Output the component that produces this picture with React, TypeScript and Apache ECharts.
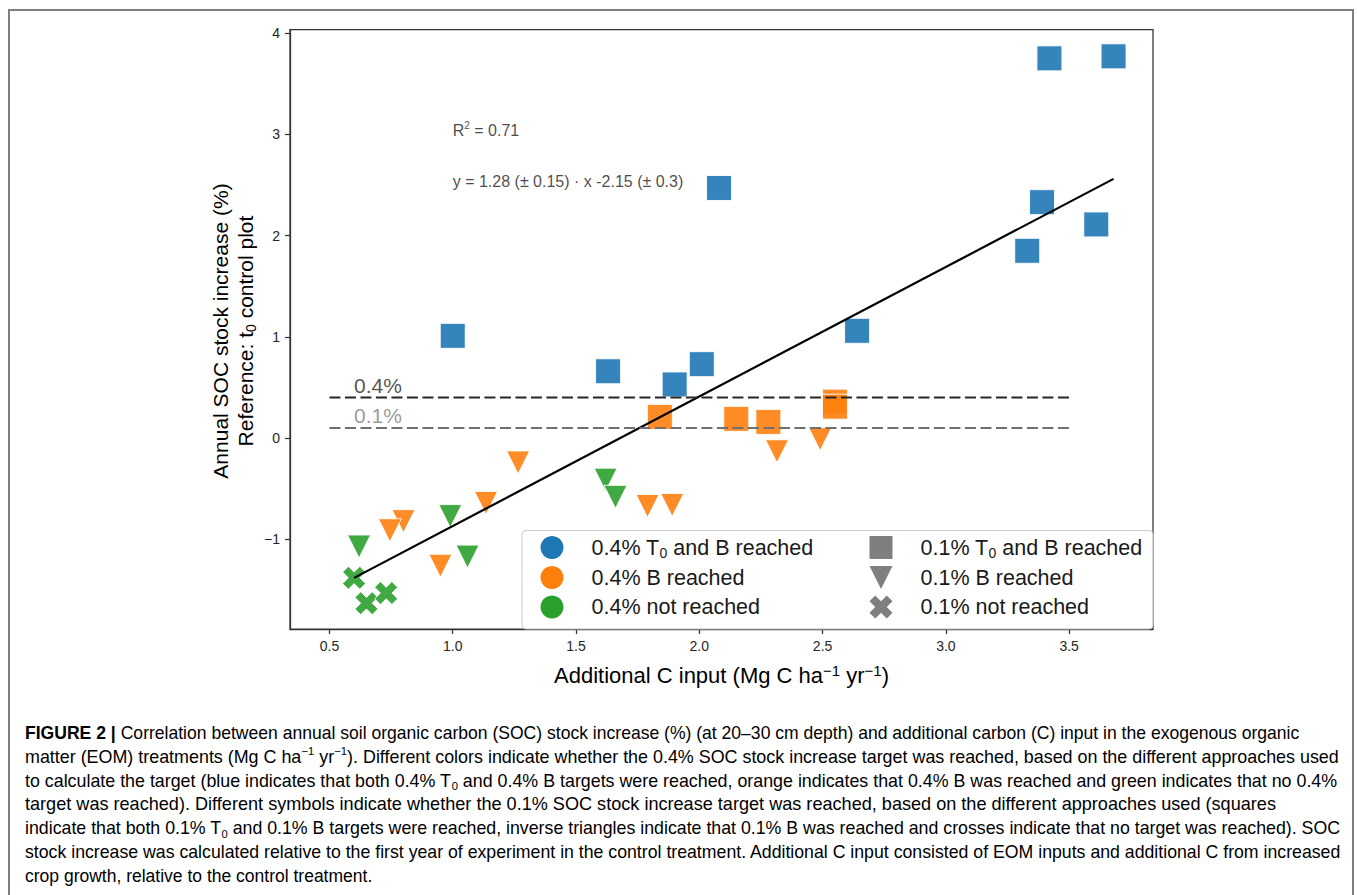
import React, { useEffect, useRef } from 'react';
import * as echarts from 'echarts';

const FONT = '"Liberation Sans", Arial, Helvetica, sans-serif';
const BLUE = '#1f77b4';
const ORANGE = '#ff7f0e';
const GREEN = '#2ca02c';
const GRAY = '#7f7f7f';

// ---- data (x: additional C input, y: annual SOC stock increase %) ----
const blueSquares: number[][] = [
  [1.0, 1.01], [1.63, 0.66], [1.9, 0.53], [2.01, 0.73], [2.08, 2.47], [2.64, 1.06],
  [3.33, 1.85], [3.39, 2.33], [3.61, 2.11], [3.42, 3.75], [3.68, 3.77],
];
const orangeSquares: number[][] = [
  [1.84, 0.21], [2.15, 0.19], [2.28, 0.16], [2.55, 0.36], [2.55, 0.31],
];
const orangeTriangles: number[][] = [
  [1.265, -0.24], [1.135, -0.64], [0.8, -0.82], [0.745, -0.91], [0.95, -1.26],
  [1.79, -0.67], [1.89, -0.66], [2.315, -0.13], [2.49, -0.01],
];
const greenTriangles: number[][] = [
  [0.62, -1.07], [0.99, -0.77], [1.06, -1.17], [1.62, -0.41], [1.66, -0.58],
];
const greenCrosses: number[][] = [
  [0.6, -1.38], [0.65, -1.63], [0.73, -1.53],
];

const regressionX = [0.6, 3.68];
const regressionY = [-1.38, 2.56];
const thresholdX = [0.5, 3.5];
const threshold04 = 0.4;
const threshold01 = 0.1;

const xTicks = [0.5, 1.0, 1.5, 2.0, 2.5, 3.0, 3.5];
const yTicks = [-1, 0, 1, 2, 3, 4];

const legendColorNames = ['0.4% T0 and B reached', '0.4% B reached', '0.4% not reached'];
const legendShapeNames = ['0.1% T0 and B reached', '0.1% B reached', '0.1% not reached'];

const annotationTexts = ['{d|0.4%}', '{g|0.1%}', '{t|R}{p|2}{t| = 0.71}', '{t|y = 1.28 (± 0.15) · x -2.15 (± 0.3)}'];
const annotationX = [0.6, 0.6, 1.0, 1.0];
const annotationY = [0.52, 0.22, 3.04, 2.53];

type Seg = [string, string];
const captionLines: Seg[][] = [
  [['b', 'FIGURE 2 |'], ['n', ' Correlation between annual soil organic carbon (SOC) stock increase (%) (at 20–30 cm depth) and additional carbon (C) input in the exogenous organic']],
  [['n', 'matter (EOM) treatments (Mg C ha'], ['p', '−1'], ['n', ' yr'], ['p', '−1'], ['n', '). Different colors indicate whether the 0.4% SOC stock increase target was reached, based on the different approaches used']],
  [['n', 'to calculate the target (blue indicates that both 0.4% T'], ['s', '0'], ['n', ' and 0.4% B targets were reached, orange indicates that 0.4% B was reached and green indicates that no 0.4%']],
  [['n', 'target was reached). Different symbols indicate whether the 0.1% SOC stock increase target was reached, based on the different approaches used (squares']],
  [['n', 'indicate that both 0.1% T'], ['s', '0'], ['n', ' and 0.1% B targets were reached, inverse triangles indicate that 0.1% B was reached and crosses indicate that no target was reached). SOC']],
  [['n', 'stock increase was calculated relative to the first year of experiment in the control treatment. Additional C input consisted of EOM inputs and additional C from increased']],
  [['n', 'crop growth, relative to the control treatment.']],
];
const captionRight = [1300, 1340, 1338, 1277, 1340, 1342, 0];

const TRI = 'path://M0,0 L2,0 L1,2 Z';
const XSYM = 'path://M1,0 L2,1 L3,0 L4,1 L3,2 L4,3 L3,4 L2,3 L1,4 L0,3 L1,2 L0,1 Z';

const CAP_SIZE = 17.5;
const CAP_SMALL = 11;
const CAP_COLOR = '#231f20';

function legendRich(name: string): string {
  const i = name.indexOf('T0');
  if (i < 0) return `{a|${name}}`;
  return `{a|${name.slice(0, i + 1)}}{s|0}{a|${name.slice(i + 2)}}`;
}

export default function App() {
  const ref = useRef<HTMLDivElement>(null);
  useEffect(() => {
    if (!ref.current) return;
    const chart = echarts.init(ref.current, undefined, { renderer: 'svg' });

    const ctx = document.createElement('canvas').getContext('2d') as CanvasRenderingContext2D;
    const fontFor = (k: string) => {
      if (k === 'b') return `bold ${CAP_SIZE}px ${FONT}`;
      if (k === 'p' || k === 's') return `${CAP_SMALL}px ${FONT}`;
      return `${CAP_SIZE}px ${FONT}`;
    };
    const capRich = {
      n: { fontSize: CAP_SIZE, fontFamily: FONT, color: CAP_COLOR, lineHeight: 22 },
      b: { fontSize: CAP_SIZE, fontFamily: FONT, color: CAP_COLOR, fontWeight: 'bold', lineHeight: 22 },
      p: { fontSize: CAP_SMALL, fontFamily: FONT, color: CAP_COLOR, lineHeight: 9, verticalAlign: 'top' },
      s: { fontSize: CAP_SMALL, fontFamily: FONT, color: CAP_COLOR, lineHeight: 9, verticalAlign: 'bottom' },
    };
    const captionGraphics = captionLines.map((segs, i) => {
      let w = 0;
      segs.forEach(([k, t]) => {
        ctx.font = fontFor(k);
        w += ctx.measureText(t).width;
      });
      const target = captionRight[i];
      const sx = target ? (target - 25) / w : 1;
      return {
        type: 'text',
        x: 25,
        y: 733 + 23.8 * i,
        scaleX: sx,
        silent: true,
        style: {
          text: segs.map(([k, t]) => `{${k}|${t}}`).join(''),
          rich: capRich,
          align: 'left',
          verticalAlign: 'middle',
        },
      };
    });

    const mk = (name: string, data: number[][], color: string, symbol: string, size: number) => ({
      type: 'scatter',
      name,
      data,
      symbol,
      symbolSize: size,
      itemStyle: { color, opacity: 0.9, borderColor: '#ffffff', borderWidth: 1 },
      z: 2,
      silent: true,
    });
    const dummy = (name: string, symbol: string) => ({
      type: 'scatter',
      name,
      data: [],
      symbol,
      itemStyle: { color: GRAY, opacity: 1 },
    });

    const legendText = {
      color: '#1a1a1a',
      fontFamily: FONT,
      fontSize: 21.5,
      padding: [0, 0, 0, 23],
      rich: {
        a: { fontSize: 21.5, fontFamily: FONT, color: '#1a1a1a', lineHeight: 24 },
        s: { fontSize: 14, fontFamily: FONT, color: '#1a1a1a', lineHeight: 10, verticalAlign: 'bottom' },
      },
    };

    const option: any = {
      animation: false,
      backgroundColor: '#ffffff',
      textStyle: { fontFamily: FONT },
      grid: {
        left: 290, top: 29.5, width: 863, height: 599.5,
        show: true, borderColor: '#333333', borderWidth: 1.25,
      },
      xAxis: {
        type: 'value', min: 0.34, max: 3.84,
        axisLine: { show: true, onZero: false, lineStyle: { color: '#333333', width: 1.25 } },
        axisTick: { show: true, customValues: xTicks, length: 5, lineStyle: { color: '#333333', width: 1.25 } },
        axisLabel: {
          customValues: xTicks, formatter: (v: number) => v.toFixed(1),
          fontSize: 14, color: '#262626', margin: 10, fontFamily: FONT,
        },
        splitLine: { show: false },
      },
      yAxis: {
        type: 'value', min: -1.885, max: 4.035,
        axisLine: { show: true, onZero: false, lineStyle: { color: '#333333', width: 1.25 } },
        axisTick: { show: true, customValues: yTicks, length: 5, lineStyle: { color: '#333333', width: 1.25 } },
        axisLabel: {
          customValues: yTicks, formatter: (v: number) => (v < 0 ? '−' + Math.abs(v) : String(v)),
          fontSize: 14, color: '#262626', margin: 10, fontFamily: FONT,
        },
        splitLine: { show: false },
      },
      legend: [
        {
          orient: 'vertical', left: 540.5, top: 536, padding: 0,
          itemWidth: 23, itemHeight: 23, itemGap: 6.5, selectedMode: false, z: 10,
          data: legendColorNames.map((n) => ({ name: n, icon: 'circle', itemStyle: { opacity: 1, borderWidth: 0 } })),
          formatter: legendRich, textStyle: legendText,
        },
        {
          orient: 'vertical', left: 869.5, top: 536, padding: 0,
          itemWidth: 23, itemHeight: 23, itemGap: 6.5, selectedMode: false, z: 10,
          data: [
            { name: legendShapeNames[0], icon: 'rect' },
            { name: legendShapeNames[1], icon: TRI },
            { name: legendShapeNames[2], icon: XSYM },
          ],
          formatter: legendRich, textStyle: legendText,
        },
      ],
      series: [
        mk(legendColorNames[0], blueSquares, BLUE, 'rect', 25),
        mk(legendColorNames[1], orangeSquares, ORANGE, 'rect', 25),
        mk(legendColorNames[1], orangeTriangles, ORANGE, TRI, 23),
        mk(legendColorNames[2], greenTriangles, GREEN, TRI, 23),
        mk(legendColorNames[2], greenCrosses, GREEN, XSYM, 23),
        dummy(legendShapeNames[0], 'rect'),
        dummy(legendShapeNames[1], TRI),
        dummy(legendShapeNames[2], XSYM),
        {
          type: 'line', name: 'regression', silent: true, z: 4, symbol: 'none',
          data: regressionX.map((x, i) => [x, regressionY[i]]),
          lineStyle: { color: '#000000', width: 2.2 },
        },
        {
          type: 'line', name: 'target 0.4%', silent: true, z: 4, symbol: 'none',
          data: thresholdX.map((x) => [x, threshold04]),
          lineStyle: { color: '#262626', width: 2, type: [11, 4.5] },
        },
        {
          type: 'line', name: 'target 0.1%', silent: true, z: 4, symbol: 'none',
          data: thresholdX.map((x) => [x, threshold01]),
          lineStyle: { color: '#707070', width: 2, type: [11, 4.5] },
        },
        {
          type: 'scatter', name: 'annotations', silent: true, z: 5, symbolSize: 0,
          itemStyle: { color: 'transparent' },
          data: annotationTexts.map((t, i) => ({ value: [annotationX[i], annotationY[i]], label: { formatter: t } })),
          label: {
            show: true, position: 'right', distance: 0,
            rich: {
              d: { fontSize: 21, fontFamily: FONT, color: '#262626' },
              g: { fontSize: 21, fontFamily: FONT, color: '#808080' },
              t: { fontSize: 16, fontFamily: FONT, color: '#1a1a1a', lineHeight: 20 },
              p: { fontSize: 10, fontFamily: FONT, color: '#1a1a1a', lineHeight: 8, verticalAlign: 'top' },
            },
          },
        },
      ],
      graphic: [
        {
          type: 'rect', z: 1, silent: true,
          shape: { x: 9, y: 10, width: 1344, height: 920 },
          style: { fill: 'none', stroke: '#7f7f7f', lineWidth: 2 },
        },
        {
          type: 'rect', z: 3, silent: true,
          shape: { x: 522, y: 530.5, width: 631, height: 98.5, r: 4 },
          style: { fill: 'rgba(255,255,255,0.8)', stroke: '#cccccc', lineWidth: 1 },
        },
        {
          type: 'text', x: 233, y: 331, rotation: Math.PI / 2, silent: true,
          style: {
            text: '{a|Annual SOC stock increase (%)}\n{a|Reference: t}{s|0}{a| control plot}',
            align: 'center', verticalAlign: 'middle',
            rich: {
              a: { fontSize: 21, fontFamily: FONT, color: '#1a1a1a', lineHeight: 24.5 },
              s: { fontSize: 14, fontFamily: FONT, color: '#1a1a1a', lineHeight: 10, verticalAlign: 'bottom' },
            },
          },
        },
        {
          type: 'text', x: 721.5, y: 675, silent: true,
          style: {
            text: '{a|Additional C input (Mg C ha}{p|−1}{a| yr}{p|−1}{a|)}',
            align: 'center', verticalAlign: 'middle',
            rich: {
              a: { fontSize: 22, fontFamily: FONT, color: '#1a1a1a', lineHeight: 25 },
              p: { fontSize: 15, fontFamily: FONT, color: '#1a1a1a', lineHeight: 10, verticalAlign: 'top' },
            },
          },
        },
        ...captionGraphics,
      ],
    };
    chart.setOption(option);
    return () => chart.dispose();
  }, []);

  return (
    <div
      ref={ref}
      style={{ position: 'absolute', left: 0, top: 0, width: 1357, height: 895, background: '#fff' }}
    />
  );
}
